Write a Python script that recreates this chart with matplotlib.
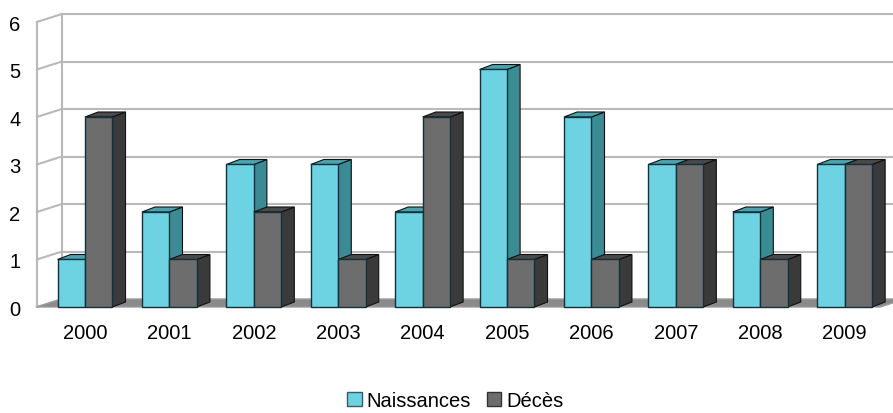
import matplotlib
matplotlib.use('Agg')
import matplotlib.pyplot as plt
from matplotlib.patches import Polygon, Patch

# data
years = ['2000', '2001', '2002', '2003', '2004', '2005', '2006', '2007', '2008', '2009']
naissances = [1, 2, 3, 3, 2, 5, 4, 3, 2, 3]
deces = [4, 1, 2, 1, 4, 1, 1, 3, 1, 3]
y_ticks = [0, 1, 2, 3, 4, 5, 6]

plt.rcParams['font.family'] = ['Liberation Sans', 'DejaVu Sans']

# depth offsets (data units) for the fake 3d look
WALL_DX, WALL_DY = 0.296, 0.168
BAR_DX, BAR_DY = 0.155, 0.105
BAR_W = 0.325

fig = plt.figure(figsize=(8.93, 4.14), dpi=100)
ax = fig.add_axes([0, 0, 1, 1])
ax.set_xlim(-1.007, 9.573)
ax.set_ylim(-2.232, 6.484)
ax.axis('off')

grid_col = '#b9b9b9'
x_left = -0.57
x_right = 9.8

# left side wall + back wall grid
ax.plot([x_left, x_left], [0, y_ticks[-1]], color=grid_col, lw=1.5, zorder=1)
ax.plot([x_left + WALL_DX] * 2, [WALL_DY, y_ticks[-1] + WALL_DY], color=grid_col, lw=1.5, zorder=1)
for v in y_ticks:
    ax.plot([x_left, x_left + WALL_DX], [v, v + WALL_DY], color=grid_col, lw=1.5, zorder=1)
    if v > 0:
        ax.plot([x_left + WALL_DX, x_right], [v + WALL_DY, v + WALL_DY], color=grid_col, lw=1.5, zorder=1)
    ax.text(-0.83, v - 0.05, str(v), ha='center', va='center', fontsize=14.5)

# floor
floor = Polygon([(x_left, 0), (9.42, 0), (9.42 + WALL_DX, WALL_DY), (x_left + WALL_DX, WALL_DY)],
                closed=True, facecolor='#8a8a8a', edgecolor='#9a9a9a', lw=1, zorder=2)
ax.add_patch(floor)


def draw_bar(x0, h, front, side, top, z):
    x1 = x0 + BAR_W
    ax.add_patch(Polygon([(x1, 0), (x1 + BAR_DX, BAR_DY), (x1 + BAR_DX, h + BAR_DY), (x1, h)],
                         closed=True, facecolor=side, edgecolor='#111111', lw=0.8, zorder=z))
    ax.add_patch(Polygon([(x0, h), (x0 + BAR_DX, h + BAR_DY), (x1 + BAR_DX, h + BAR_DY), (x1, h)],
                         closed=True, facecolor=top, edgecolor='#111111', lw=0.8, zorder=z))
    ax.bar(x0, h, width=BAR_W, align='edge', color=front, edgecolor='#12313a', lw=1.0, zorder=z)


for i, (n, d) in enumerate(zip(naissances, deces)):
    draw_bar(i - BAR_W, n, '#6dd2e2', '#3b8b95', '#4aa3ae', 3 + 2 * i)
    draw_bar(i, d, '#6d6d6d', '#3a3a3a', '#4a4a4a', 4 + 2 * i)
    ax.text(i, -0.53, years[i], ha='center', va='center', fontsize=14.5)

handles = [Patch(facecolor='#6dd2e2', edgecolor='#3a5a60', label='Naissances'),
           Patch(facecolor='#6d6d6d', edgecolor='#333333', label='Décès')]
fig.legend(handles=handles, loc='center', bbox_to_anchor=(0.51, 0.03), ncol=2, frameon=False,
           fontsize=14.5, handlelength=0.7, handleheight=0.7, handletextpad=0.25, columnspacing=0.8)

fig.savefig('out.png', dpi=100)
